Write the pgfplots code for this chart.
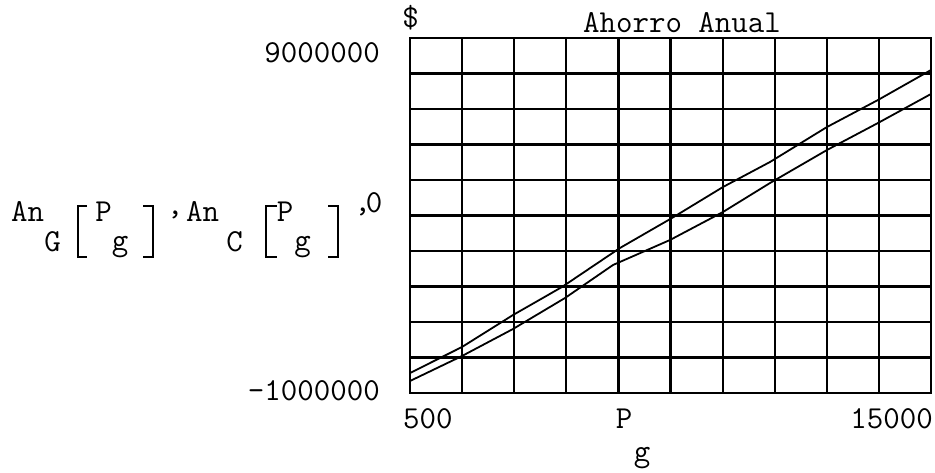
\documentclass[border=0pt]{standalone}
\usepackage{pgfplots}
\pgfplotsset{compat=1.18}

% typewriter face used for every label of the plot
\newcommand\mc{\fontsize{32}{38}\selectfont\ttfamily}

% annual savings for the two options, in $, against P_g
\pgfplotstableread{
Pg     anG
500    -437000
1947    296000
3367   1197000
4730   1986000
6344   3085000
7792   3930000
9211   4803000
10519  5507000
12105  6493000
13525  7254000
15000  8099000
}\tableG
\pgfplotstableread{
Pg     anC
500    -662000
1947     42000
3367    803000
4814   1676000
6150   2606000
7736   3310000
9211   4099000
10519  4915000
12105  5845000
13525  6606000
15000  7423000
}\tableC

\begin{document}
\begin{tikzpicture}[x=1pt,y=1pt]
\useasboundingbox (0,0) rectangle (935,472);

\begin{axis}[
  at={(410pt,79pt)}, anchor=south west,
  scale only axis, width=521pt, height=355pt,
  xmin=500, xmax=15000, ymin=-1000000, ymax=9000000,
  xtick={500,1950,3400,4850,6300,7750,9200,10650,12100,13550,15000},
  ytick={-1000000,0,1000000,2000000,3000000,4000000,5000000,6000000,7000000,8000000,9000000},
  xticklabels={}, yticklabels={},
  scaled ticks=false,
  major tick length=0pt,
  grid=major,
  major grid style={black, line width=2.2pt},
  axis line style={black, line width=2.6pt},
  clip=true,
]
\addplot[black, line width=1.8pt] table[x=Pg, y=anG] {\tableG};
\addplot[black, line width=1.8pt] table[x=Pg, y=anC] {\tableC};
\addplot[black, line width=1.6pt] coordinates {(500,0) (15000,0)};
\end{axis}

% title and units
\node[anchor=base, inner sep=0pt] at (682,439) {\mc Ahorro Anual};
\node[anchor=base, inner sep=0pt] at (410.5,444) {\mc \$};

% axis limit labels
\node[anchor=base east, inner sep=0pt] at (380,409) {\mc 9000000};
\node[anchor=base east, inner sep=0pt] at (380,72) {\mc -1000000};
\node[anchor=base west, inner sep=0pt] at (403,44) {\mc 500};
\node[anchor=base east, inner sep=0pt] at (933,44) {\mc 15000};

% x variable P_g
\node[anchor=base, inner sep=0pt] at (624,44) {\mc P};
\node[anchor=base, inner sep=0pt] at (642,11) {\mc g};

% y expression: An_G[P_g], An_C[P_g], 0
\node[anchor=base west, inner sep=0pt] at (11,250) {\mc An};
\node[anchor=base, inner sep=0pt] at (52.5,220) {\mc G};
\node[anchor=base, inner sep=0pt] at (103.5,250) {\mc P};
\node[anchor=base, inner sep=0pt] at (120,221) {\mc g};
\node[anchor=base, inner sep=0pt] at (175,257) {\mc ,};
\node[anchor=base west, inner sep=0pt] at (186,250) {\mc An};
\node[anchor=base, inner sep=0pt] at (234.5,220) {\mc C};
\node[anchor=base, inner sep=0pt] at (285,250) {\mc P};
\node[anchor=base, inner sep=0pt] at (302.5,221) {\mc g};
\node[anchor=base, inner sep=0pt] at (362.5,260) {\mc ,};
\node[anchor=base, inner sep=0pt] at (374,259) {\mc 0};

\begin{scope}[line width=2.6pt, line cap=butt, line join=miter]
  \draw (87,266) -- (78,266) -- (78,215) -- (87,215);
  \draw (143,266) -- (153,266) -- (153,215) -- (143,215);
  \draw (277,266) -- (266,266) -- (266,215) -- (277,215);
  \draw (328,266) -- (338,266) -- (338,215) -- (328,215);
\end{scope}
\end{tikzpicture}
\end{document}
